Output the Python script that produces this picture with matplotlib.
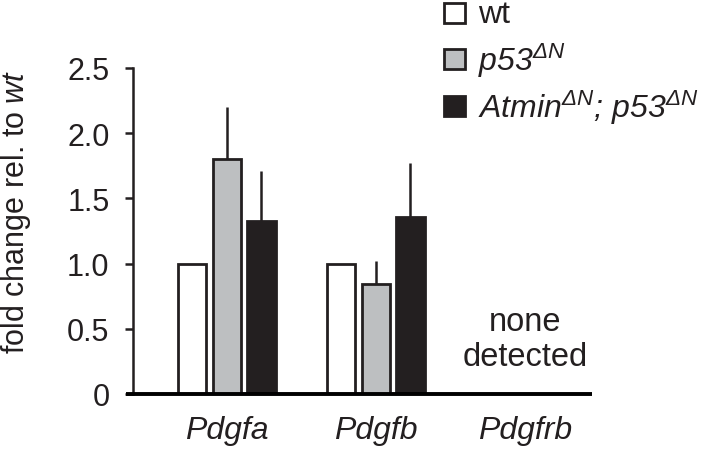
import matplotlib
matplotlib.use("Agg")
import matplotlib.pyplot as plt
from matplotlib.patches import Rectangle
import numpy as np

plt.rcParams['font.family'] = ['Liberation Sans', 'DejaVu Sans']
plt.rcParams['mathtext.fontset'] = 'custom'
plt.rcParams['mathtext.rm'] = 'Liberation Sans:italic'
plt.rcParams['mathtext.it'] = 'Liberation Sans:italic'
plt.rcParams['mathtext.bf'] = 'Liberation Sans:bold'

genes = ['Pdgfa', 'Pdgfb', 'Pdgfrb']
series_labels = ['wt', r'p53$^{\Delta N}$', r'Atmin$^{\Delta N}$; p53$^{\Delta N}$']
series_styles = ['normal', 'italic', 'italic']
series_colors = ['white', '#bdbfc1', '#231f20']
# values for Pdgfa, Pdgfb (Pdgfrb: none detected)
wt_vals = [1.0, 1.0]
p53_vals = [1.80, 0.84]
atmin_vals = [1.33, 1.36]
wt_err = [0.0, 0.0]
p53_err = [0.40, 0.18]
atmin_err = [0.38, 0.41]
yticks = [0, 0.5, 1.0, 1.5, 2.0, 2.5]
ytick_labels = ['0', '0.5', '1.0', '1.5', '2.0', '2.5']

W, H = 709, 452
fig = plt.figure(figsize=(W/100, H/100), dpi=100)
ax = fig.add_axes([133/W, 1-395/H, (592-133)/W, (395-69)/H])

fs = 22
ink = '#231f20'
x = np.arange(2)
spacing = 0.232
width = 0.19
vals = [wt_vals, p53_vals, atmin_vals]
errs = [wt_err, p53_err, atmin_err]
for i, (v, e, c) in enumerate(zip(vals, errs, series_colors)):
    pos = x + (i-1)*spacing
    ax.bar(pos, v, width=width, color=c, edgecolor=ink, linewidth=2.0, zorder=3)
    has = np.array(e) > 0
    if has.any():
        ax.errorbar(pos[has], np.array(v)[has], yerr=[np.zeros(has.sum()), np.array(e)[has]],
                    fmt='none', ecolor=ink, elinewidth=1.8, capsize=0, zorder=2)

ax.text(2, 0.42, 'none\ndetected', ha='center', va='center', fontsize=23.5, linespacing=1.15, color=ink)

ax.set_xlim(-0.63, 2.45)
ax.set_ylim(0, 2.5)
ax.set_yticks(yticks)
ax.set_yticklabels(ytick_labels, fontsize=fs, color=ink)
ax.set_xticks(np.arange(3))
ax.set_xticklabels(genes, fontsize=23, fontstyle='italic', color=ink)
ax.tick_params(axis='x', length=0, pad=15)
ax.tick_params(axis='y', length=6, width=1.8, pad=11, color=ink)
for s in ['top', 'right']:
    ax.spines[s].set_visible(False)
ax.spines['left'].set_linewidth(1.8)
ax.spines['left'].set_color(ink)
ax.spines['bottom'].set_visible(False)
ax.plot([-0.68, 2.45], [0, 0], color='black', lw=2.8, clip_on=False, zorder=4, solid_capstyle='butt')

fig.text(16/W, 1-212/H, r'fold change rel. to $\mathit{wt}$', rotation=90, ha='center', va='center',
         fontsize=fs, color=ink)

# legend
rows_y = [14, 60, 107]
for lab, st, c, yy in zip(series_labels, series_styles, series_colors, rows_y):
    fig.add_artist(Rectangle((444/W, 1-(yy+10)/H), 21/W, 20/H, transform=fig.transFigure,
                             facecolor=c, edgecolor=ink, linewidth=2.0))
    fig.text(478/W, 1-(yy+1)/H, lab, ha='left', va='center', fontsize=23, fontstyle=st, color=ink)

fig.savefig('out.png', dpi=100)
